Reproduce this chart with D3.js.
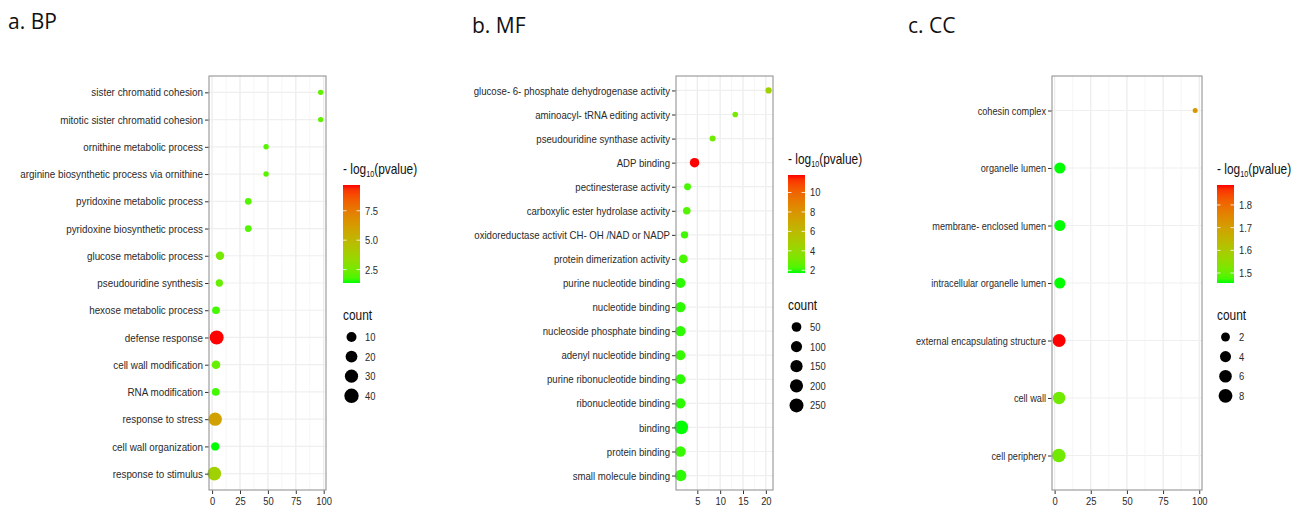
<!DOCTYPE html>
<html>
<head>
<meta charset="utf-8">
<script src="https://cdn.jsdelivr.net/npm/d3@7"></script>
<style>
body { margin: 0; background: #fff; }
svg { display: block; }
.lab { font-family: "Liberation Sans", Arial, sans-serif; }
.title { font-family: "Open Sans", sans-serif; font-size: 21px; fill: #111; }
</style>
</head>
<body>
<svg width="1297" height="509"></svg>
<script>
// **** Data ****

// a. BP
var bpTerms = ["sister chromatid cohesion", "mitotic sister chromatid cohesion", "ornithine metabolic process",
    "arginine biosynthetic process via ornithine", "pyridoxine metabolic process", "pyridoxine biosynthetic process",
    "glucose metabolic process", "pseudouridine synthesis", "hexose metabolic process", "defense response",
    "cell wall modification", "RNA modification", "response to stress", "cell wall organization", "response to stimulus"];
var bpX = [97.3, 97.3, 48.4, 48.4, 32.4, 32.4, 7.1, 6.5, 3.5, 4.1, 3.5, 3.3, 2.8, 2.8, 2.0];
var bpCount = [2, 2, 2, 2, 3, 3, 7, 4, 5, 44, 8, 5, 38, 7, 41];
var bpLogP = [2.1, 2.1, 2.0, 2.0, 1.9, 1.9, 2.5, 2.2, 1.7, 9.69, 2.2, 1.7, 6.0, 1.36, 3.7];
var bpXTicks = [0, 25, 50, 75, 100];
var bpColorTicks = [2.5, 5.0, 7.5];
var bpCountBreaks = [10, 20, 30, 40];

// b. MF
var mfTerms = ["glucose- 6- phosphate dehydrogenase activity", "aminoacyl- tRNA editing activity",
    "pseudouridine synthase activity", "ADP binding", "pectinesterase activity",
    "carboxylic ester hydrolase activity", "oxidoreductase activit CH- OH /NAD or NADP",
    "protein dimerization activity", "purine nucleotide binding", "nucleotide binding",
    "nucleoside phosphate binding", "adenyl nucleotide binding", "purine ribonucleotide binding",
    "ribonucleotide binding", "binding", "protein binding", "small molecule binding"];
var mfX = [20.6, 13.3, 8.35, 4.4, 2.86, 2.7, 2.2, 1.93, 1.3, 1.3, 1.3, 1.3, 1.3, 1.3, 1.5, 1.3, 1.35];
var mfCount = [4, 2, 3, 69, 9, 18, 16, 48, 94, 100, 105, 90, 92, 95, 280, 110, 150];
var mfLogP = [4.6, 3.2, 3.0, 11.8, 2.2, 2.4, 2.1, 2.2, 1.9, 1.9, 1.9, 2.0, 1.9, 1.9, 1.72, 2.0, 1.9];
var mfXTicks = [5, 10, 15, 20];
var mfColorTicks = [2, 4, 6, 8, 10];
var mfCountBreaks = [50, 100, 150, 200, 250];

// c. CC
var ccTerms = ["cohesin complex", "organelle lumen", "membrane- enclosed lumen", "intracellular organelle lumen",
    "external encapsulating structure", "cell wall", "cell periphery"];
var ccX = [97.2, 3.6, 3.6, 3.6, 3.1, 3.1, 2.9];
var ccCount = [1, 5, 5, 5, 8, 7, 9];
var ccLogP = [1.72, 1.456, 1.456, 1.456, 1.888, 1.51, 1.51];
var ccXTicks = [0, 25, 50, 75, 100];
var ccColorTicks = [1.5, 1.6, 1.7, 1.8];
var ccCountBreaks = [2, 4, 6, 8];

var svg = d3.select('svg');
var panelTop = 76, panelBottom = 490;

function expand(ext) {
    var pad = (ext[1] - ext[0]) * 0.05;
    return [ext[0] - pad, ext[1] + pad];
}

// shrink text horizontally (the source figure is compressed), keeping its anchor
function squash(sel, k) {
    sel.each(function () {
        var len = this.getComputedTextLength();
        d3.select(this).attr('textLength', len * k).attr('lengthAdjust', 'spacingAndGlyphs');
    });
}

function drawPanel(cfg) {
    var g = svg.append('g');

    var x = d3.scaleLinear().domain(expand(d3.extent(cfg.xs))).range([cfg.left, cfg.right]);
    var y = d3.scalePoint().domain(cfg.terms).range([panelTop, panelBottom]).padding(0.6);
    var color = d3.scaleLinear().domain(d3.extent(cfg.logp))
        .range(['#00ff00', '#ff0000']).interpolate(d3.interpolateLab);
    var cmin = d3.min(cfg.counts), cmax = d3.max(cfg.counts);
    var size = d3.scaleSqrt().domain([0, cmax - cmin]).range([cfg.rmin, cfg.rmax]);

    // minor grid lines halfway between the ticks
    var step = cfg.xTicks[1] - cfg.xTicks[0];
    var minor = [];
    for (var v = cfg.xTicks[0] - step / 2; v <= x.domain()[1]; v += step) {
        if (v >= x.domain()[0]) minor.push(v);
    }
    g.selectAll('.minor').data(minor).enter().append('line')
        .attr('x1', d => x(d)).attr('x2', d => x(d))
        .attr('y1', panelTop).attr('y2', panelBottom)
        .style('stroke', '#f2f2f2').style('stroke-width', 0.7);
    g.selectAll('.vmajor').data(cfg.xTicks).enter().append('line')
        .attr('x1', d => x(d)).attr('x2', d => x(d))
        .attr('y1', panelTop).attr('y2', panelBottom)
        .style('stroke', '#ebebeb').style('stroke-width', 1.2);
    g.selectAll('.hmajor').data(cfg.terms).enter().append('line')
        .attr('x1', cfg.left).attr('x2', cfg.right)
        .attr('y1', d => y(d)).attr('y2', d => y(d))
        .style('stroke', '#efefef').style('stroke-width', 1.2);

    // points
    cfg.terms.forEach(function (term, i) {
        g.append('circle')
            .attr('cx', x(cfg.xs[i]))
            .attr('cy', y(term))
            .attr('r', size(cfg.counts[i] - cmin))
            .style('fill', color(cfg.logp[i]));
    });

    // panel border
    g.append('rect')
        .attr('x', cfg.left).attr('y', panelTop)
        .attr('width', cfg.right - cfg.left).attr('height', panelBottom - panelTop)
        .style('fill', 'none').style('stroke', '#8a8a8a').style('stroke-width', 1);

    // axes
    var yAxis = g.append('g').attr('class', 'lab')
        .attr('transform', 'translate(' + (cfg.left - 0.5) + ',0)')
        .call(d3.axisLeft(y).tickSize(3.5).tickPadding(2));
    yAxis.select('.domain').remove();
    yAxis.selectAll('text').style('font-size', '11.2px').style('fill', '#2a2a2a').call(squash, cfg.squeeze);
    yAxis.selectAll('line').style('stroke', '#333');

    var xAxis = g.append('g').attr('class', 'lab')
        .attr('transform', 'translate(0,' + (panelBottom + 0.5) + ')')
        .call(d3.axisBottom(x).tickValues(cfg.xTicks).tickSize(3.5).tickPadding(3));
    xAxis.select('.domain').remove();
    xAxis.selectAll('text').style('font-size', '11.2px').style('fill', '#2a2a2a').call(squash, 0.84);
    xAxis.selectAll('line').style('stroke', '#333');

    // colour bar legend
    var lg = g.append('g').attr('class', 'lab');
    var ttl = lg.append('text')
        .attr('transform', 'translate(' + cfg.legX + ',' + cfg.legTitleY + ') scale(0.85,1)')
        .style('font-size', '14px').style('fill', '#111');
    ttl.append('tspan').text('- log');
    ttl.append('tspan').attr('dy', 3).style('font-size', '8.5px').text('10');
    ttl.append('tspan').attr('dy', -3).text('(pvalue)');

    var gradId = 'grad' + cfg.id;
    var grad = svg.append('defs').append('linearGradient').attr('id', gradId)
        .attr('x1', 0).attr('y1', 1).attr('x2', 0).attr('y2', 0);
    d3.range(0, 1.0001, 0.05).forEach(function (t) {
        grad.append('stop').attr('offset', t)
            .attr('stop-color', color(color.domain()[0] + t * (color.domain()[1] - color.domain()[0])));
    });
    var barW = 17, barTop = cfg.barTop, barBottom = cfg.barTop + 98;
    var cy = d3.scaleLinear().domain(color.domain()).range([barBottom, barTop]);
    lg.append('rect').attr('x', cfg.legX).attr('y', barTop)
        .attr('width', barW).attr('height', barBottom - barTop)
        .style('fill', 'url(#' + gradId + ')');
    cfg.colorTicks.forEach(function (t) {
        [[cfg.legX, cfg.legX + 3.5], [cfg.legX + barW - 3.5, cfg.legX + barW]].forEach(function (s) {
            lg.append('line').attr('x1', s[0]).attr('x2', s[1])
                .attr('y1', cy(t)).attr('y2', cy(t))
                .style('stroke', '#fff').style('stroke-width', 0.8);
        });
        lg.append('text').attr('class', 'leglab').attr('x', cfg.legX + barW + 5).attr('y', cy(t)).attr('dy', '0.35em')
            .text(cfg.colorFmt(t));
    });

    // size legend
    lg.append('text')
        .attr('transform', 'translate(' + cfg.legX + ',' + cfg.countTitleY + ') scale(0.85,1)')
        .style('font-size', '14px').style('fill', '#111').text('count');
    cfg.countBreaks.forEach(function (b, i) {
        var yy = cfg.countTitleY + 17 + i * 19.6;
        lg.append('circle').attr('cx', cfg.legX + 8.5).attr('cy', yy)
            .attr('r', size(b - cmin) + 0.4).style('fill', '#000');
        lg.append('text').attr('class', 'leglab').attr('x', cfg.legX + 22).attr('y', yy).attr('dy', '0.35em')
            .text(b);
    });
    lg.selectAll('.leglab').style('font-size', '11.2px').style('fill', '#2a2a2a').call(squash, 0.84);

    svg.append('text').attr('class', 'title')
        .attr('x', cfg.titleX).attr('y', cfg.titleY).text(cfg.title);
}

drawPanel({
    id: 'bp', title: 'a. BP', titleX: 8, titleY: 29, squeeze: 0.88,
    terms: bpTerms, xs: bpX, counts: bpCount, logp: bpLogP,
    xTicks: bpXTicks, colorTicks: bpColorTicks, countBreaks: bpCountBreaks,
    colorFmt: d3.format('.1f'),
    left: 209, right: 326, rmin: 2.7, rmax: 7,
    legX: 343, legTitleY: 174, barTop: 185, countTitleY: 320
});

drawPanel({
    id: 'mf', title: 'b. MF', titleX: 472, titleY: 33, squeeze: 0.86,
    terms: mfTerms, xs: mfX, counts: mfCount, logp: mfLogP,
    xTicks: mfXTicks, colorTicks: mfColorTicks, countBreaks: mfCountBreaks,
    colorFmt: d3.format('d'),
    left: 676, right: 773, rmin: 2.8, rmax: 6.8,
    legX: 788, legTitleY: 164, barTop: 175, countTitleY: 310
});

drawPanel({
    id: 'cc', title: 'c. CC', titleX: 908, titleY: 33, squeeze: 0.82,
    terms: ccTerms, xs: ccX, counts: ccCount, logp: ccLogP,
    xTicks: ccXTicks, colorTicks: ccColorTicks, countBreaks: ccCountBreaks,
    colorFmt: d3.format('.1f'),
    left: 1052, right: 1202, rmin: 2.5, rmax: 6.8,
    legX: 1217, legTitleY: 174, barTop: 185, countTitleY: 320
});
</script>
</body>
</html>
